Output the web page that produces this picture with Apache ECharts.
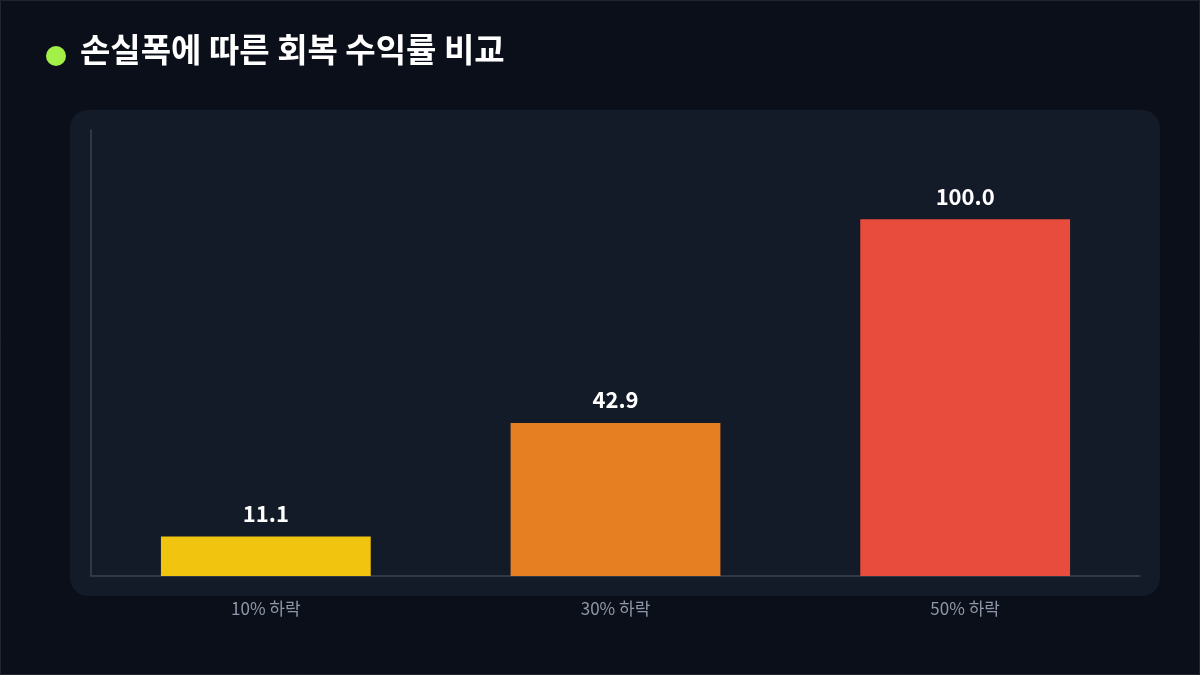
<!DOCTYPE html>
<html><head><meta charset="utf-8">
<script src="https://cdn.jsdelivr.net/npm/echarts@6/dist/echarts.min.js"></script>
<style>html,body{margin:0;padding:0;background:#0b0f19;}#c{width:1200px;height:675px;}</style>
</head><body><div id="c"></div>
<script>
const categories = ['10% 하락', '30% 하락', '50% 하락'];
const values = [11.1, 42.9, 100.0];
const colors = ['#f1c40f', '#e67e22', '#e74c3c'];
const titleText = '손실폭에 따른 회복 수익률 비교';

const chart = echarts.init(document.getElementById('c'));
chart.setOption({
  backgroundColor: '#0b0f19',
  animation: false,
  graphic: [
    {type:'rect', shape:{x:0.5,y:0.5,width:1199,height:674}, style:{fill:'none', stroke:'#1f2633', lineWidth:1}},
    {type:'circle', shape:{cx:56, cy:56, r:10}, style:{fill:'#a3f047'}},
    {type:'text', left:80, top:33, style:{text:titleText, fill:'#ffffff', font:'bold 33px "Noto Sans CJK KR"'}},
    {type:'rect', z:-1, shape:{x:70,y:110,width:1090,height:486,r:18}, style:{fill:'#131a28'}}
  ],
  grid: {left:91, right:60, top:130, bottom:99},
  xAxis: {
    type:'category', data:categories,
    axisLine:{lineStyle:{color:'#3a4352', width:1.5}},
    axisTick:{show:false},
    axisLabel:{color:'#8e98a8', fontSize:17, margin:24, fontFamily:'Noto Sans CJK KR'}
  },
  yAxis: {
    type:'value', min:0, max:125,
    axisLine:{show:true, lineStyle:{color:'#3a4352', width:1.5}},
    axisTick:{show:false}, axisLabel:{show:false}, splitLine:{show:false}
  },
  series: [{
    type:'bar', barWidth:'60%',
    data: values.map((v,i)=>({value:v, itemStyle:{color:colors[i]}})),
    label:{show:true, position:'top', distance:12, color:'#ffffff', fontSize:22, fontWeight:'bold',
      fontFamily:'Noto Sans CJK KR', formatter:p=>p.value.toFixed(1)}
  }]
});
</script></body></html>
